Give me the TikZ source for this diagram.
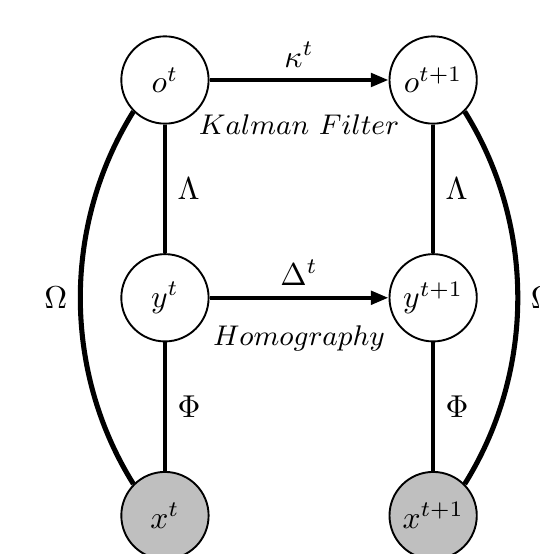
\documentclass[tikz,border=0pt]{standalone}
\usepackage{amsmath,amssymb}
\usepackage{tikz}
\usetikzlibrary{positioning,arrows.meta}

\begin{document}
\begin{tikzpicture}[
            >={Triangle[length=5.6pt,width=4.2pt]},
            node distance=2.42cm and 2.98cm, on grid,
            var/.style={
                    draw, circle, semithick,
                    minimum size=0.97cm, inner sep=0pt
                },
            obs/.style={var, fill=black!25},
            link/.style={line width=1.3pt},
            arr/.style={->, line width=1.3pt},
            bow/.style={line width=1.6pt, looseness=0.92},
            method/.style={font=\small},
            ]

            \clip (0,0) rectangle (6,6.156);

            % top row: latent states, middle row: image coords, bottom row: observed
            \node[var] (ot) at (1.833,5.267) {$o^t$};
            \node[var, right=of ot] (ot1) {$o^{t+1}$};
            \node[var, below=of ot] (yt) {$y^t$};
            \node[var, below=of ot1] (yt1) {$y^{t+1}$};
            \node[obs, below=of yt] (xt) {$x^t$};
            \node[obs, below=of yt1] (xt1) {$x^{t+1}$};

            \draw[arr] (ot) -- node[above] (kap) {$\kappa^t$}
                node[method, below=7pt] (kf) {$Kalman\ Filter$} (ot1);
            \draw[arr] (yt) -- node[above] (del) {$\Delta^t$}
                node[method, below=5pt] (hom) {$Homography$} (yt1);

            \draw[link] (ot) -- node[right] (lama) {$\Lambda$} (yt);
            \draw[link] (yt) -- node[right] (phia) {$\Phi$} (xt);
            \draw[link] (ot1) -- node[right] (lamb) {$\Lambda$} (yt1);
            \draw[link] (yt1) -- node[right] (phib) {$\Phi$} (xt1);

            \draw[bow] (ot.225) to[out=238, in=122] node[left] (oma) {$\Omega$} (xt.135);
            \draw[bow] (ot1.-45) to[out=-58, in=58] node[right] (omb) {$\Omega$} (xt1.45);
        \end{tikzpicture}
\end{document}
